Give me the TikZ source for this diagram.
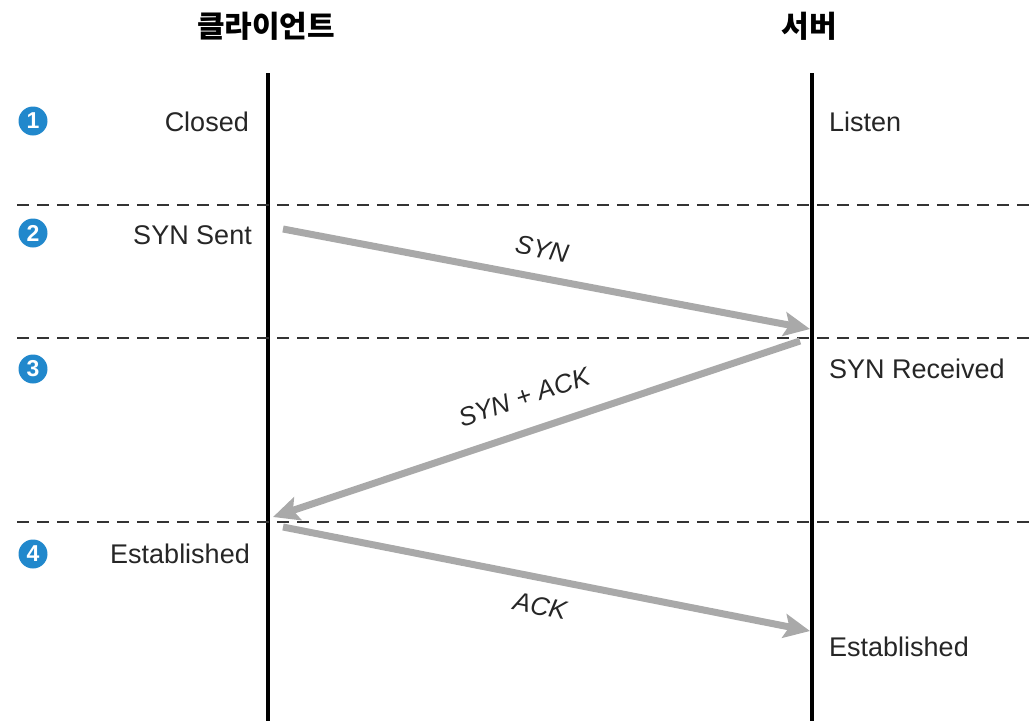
\documentclass[tikz,border=0pt]{standalone}
\usepackage{fontspec}
\setmainfont{Liberation Sans}
\newfontfamily\kr{Noto Sans CJK KR}
\usetikzlibrary{arrows.meta,shapes.geometric}
\definecolor{arrowgray}{HTML}{A9A9A9}
\definecolor{stepblue}{HTML}{2188CC}
\definecolor{dashgray}{HTML}{333333}
\tikzset{
  lifeline/.style={line width=4pt, black},
  sep/.style={dashgray, line width=1.4pt, dash pattern=on 12pt off 8pt},
  msg/.style={arrowgray, line width=7pt, -{Stealth[length=26pt,width=24pt,inset=5pt]}},
  state/.style={font=\fontsize{27}{30}\selectfont, text=black!85, inner sep=0pt},
  msglabel/.style={font=\fontsize{26}{30}\selectfont\itshape, text=black!85, inner sep=0pt},
  head/.style={font=\kr\bfseries\fontsize{30}{34}\selectfont, inner sep=0pt},
  num/.style={circle, fill=stepblue, text=white, minimum size=29pt, inner sep=0pt, font=\bfseries\fontsize{23}{24}\selectfont}
}
\begin{document}
\begin{tikzpicture}[x=1pt, y=-1pt]
\useasboundingbox (0,0) rectangle (1029,721);
% headings
\node[head] (hc) at (266,26) {클라이언트};
\node[head] (hs) at (809,26) {서버};
% lifelines
\coordinate (ctop) at (268,73);
\coordinate (cbot) at (268,721);
\coordinate (stop) at (812,73);
\coordinate (sbot) at (812,721);
\draw[lifeline] (ctop) -- (cbot);
\draw[lifeline] (stop) -- (sbot);
% separators
\coordinate (d1l) at (17,205); \coordinate (d1r) at (1029,205);
\coordinate (d2l) at (17,338); \coordinate (d2r) at (1029,338);
\coordinate (d3l) at (17,522); \coordinate (d3r) at (1029,522);
\draw[sep] (d1l) -- (d1r);
\draw[sep] (d2l) -- (d2r);
\draw[sep] (d3l) -- (d3r);
% step numbers
\node[num] (n1) at (33,121) {1};
\node[num] (n2) at (33,233) {2};
\node[num] (n3) at (33,369) {3};
\node[num] (n4) at (33,554) {4};
% states
\node[state, anchor=east] (cclosed) at (249,122) {Closed};
\node[state, anchor=east] (csent) at (252,235) {SYN Sent};
\node[state, anchor=east] (cest) at (250,554) {Established};
\node[state, anchor=west] (slisten) at (829,122) {Listen};
\node[state, anchor=west] (srecv) at (829,369) {SYN Received};
\node[state, anchor=west] (sest) at (829,647) {Established};
% messages
\coordinate (m1a) at (283,229); \coordinate (m1b) at (810,329);
\coordinate (m2a) at (800,341); \coordinate (m2b) at (273,517);
\coordinate (m3a) at (283,527); \coordinate (m3b) at (810,631);
\draw[msg] (m1a) -- (m1b);
\draw[msg] (m2a) -- (m2b);
\draw[msg] (m3a) -- (m3b);
\node[msglabel, rotate=-10.7] (l1) at (542,249) {SYN};
\node[msglabel, rotate=18.4] (l2) at (524,397) {SYN + ACK};
\node[msglabel, rotate=-11] (l3) at (540,606) {ACK};
\end{tikzpicture}
\end{document}
